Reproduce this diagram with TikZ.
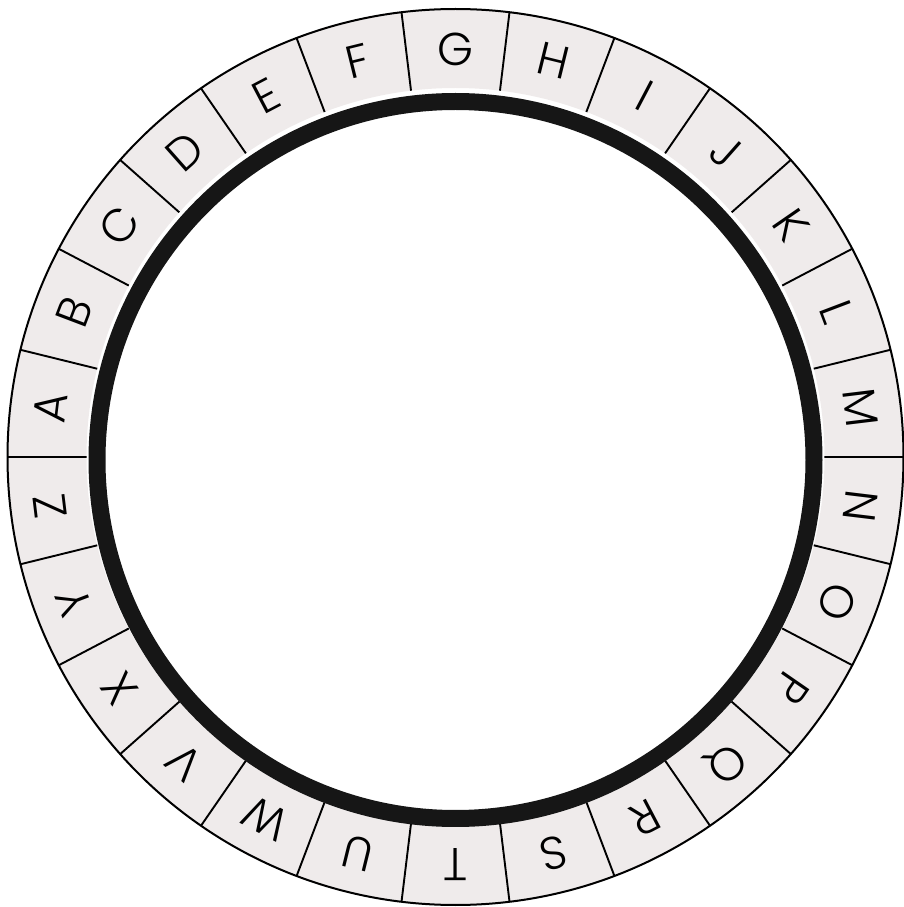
\documentclass[tikz,border=0pt]{standalone}
\usepackage{fontspec}
\setmainfont{Poppins}[UprightFont={* Light}]
\definecolor{ringgray}{RGB}{239,235,235}
\definecolor{ringblack}{RGB}{22,22,22}
\begin{document}
\begin{tikzpicture}[x=0.5pt,y=0.5pt,
  letter/.style={font=\fontsize{23}{23}\selectfont, inner sep=0pt, anchor=center},
  divider/.style={line width=0.95pt, black},
  rim/.style={line width=1pt, black},
  band/.style={line width=8.5pt, ringblack}]
\useasboundingbox (0,0) rectangle (904,907);
\coordinate (c) at (455.5,450);
\coordinate (cb) at (455.5,447);
\fill[ringgray, even odd rule] (c) circle[radius=448] (c) circle[radius=369];
\begin{scope}[shift={(455.5,450)}]
  \foreach \k in {0,...,25} {
    \coordinate (o\k) at ({96.923-\k*13.846}:448);
    \coordinate (i\k) at ({96.923-\k*13.846}:369);
    \draw[divider] (o\k) -- (i\k);
  }
  \foreach \l [count=\k from 0] in {G,H,I,J,K,L,M,N,O,P,Q,R,S,T,U,W,V,X,Y,Z,A,B,C,D,E,F} {
    \node[letter, rotate={-\k*13.846}] (L\k) at ({90-\k*13.846}:408) {\l};
  }
\end{scope}
\draw[rim] (c) circle[radius=448];
\draw[band] (cb) circle[radius=358.5];
\end{tikzpicture}
\end{document}
